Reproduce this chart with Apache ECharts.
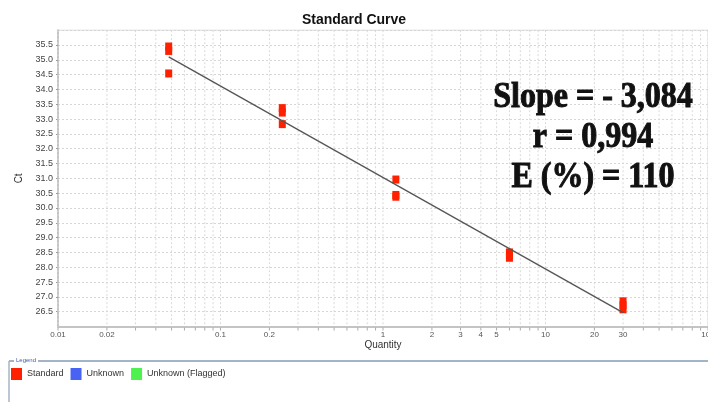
<!DOCTYPE html>
<html>
<head>
<meta charset="utf-8">
<script src="https://cdn.jsdelivr.net/npm/echarts@6/dist/echarts.min.js"></script>
<style>
  html, body { margin: 0; padding: 0; background: #fff; }
  #chart { width: 708px; height: 402px; }
</style>
</head>
<body>
<div id="chart"></div>
<script>
// Standard curve: Ct vs quantity (5-fold dilution series, triplicates)
const quantities = [0.048, 0.048, 0.048, 0.24, 0.24, 0.24, 1.2, 1.2, 1.2, 6, 6, 6, 30, 30, 30];
const ctValues   = [35.45, 35.30, 34.54, 33.37, 33.22, 32.83, 30.96, 30.44, 30.38, 28.50, 28.41, 28.32, 26.85, 26.72, 26.58];

// Fitted regression line end points (quantity, Ct)
const fitLine = [[0.048, 35.10], [30, 26.47]];

// Log-axis grid positions and labelled ticks
const xGridValues = [
  0.01, 0.02, 0.03, 0.04, 0.05, 0.06, 0.07, 0.08, 0.09,
  0.1, 0.2, 0.3, 0.4, 0.5, 0.6, 0.7, 0.8, 0.9,
  1, 2, 3, 4, 5, 6, 7, 8, 9,
  10, 20, 30, 40, 50, 60, 70, 80, 90, 100
];
const xTickLabels = ['0.01', '0.02', '0.1', '0.2', '1', '2', '3', '4', '5', '10', '20', '30', '100'];

const statLines = ['Slope = - 3,084', 'r = 0,994', 'E (%) = 110'];
const legendNames = ['Standard', 'Unknown', 'Unknown (Flagged)'];

const Y_MIN = 26, Y_MAX = 36;
const X_MIN = 0.01, X_MAX = 100;
const FONT = 'Liberation Sans, Arial, sans-serif';

const chart = echarts.init(document.getElementById('chart'), null, { renderer: 'canvas' });

const option = {
  animation: false,
  backgroundColor: '#ffffff',
  title: {
    text: 'Standard Curve',
    left: 'center',
    top: 8,
    textStyle: { fontFamily: FONT, fontSize: 14, fontWeight: 'bold', color: '#111' }
  },
  legend: {
    data: legendNames,
    left: 6,
    top: 363,
    icon: 'rect',
    itemWidth: 11,
    itemHeight: 12,
    itemGap: 7,
    textStyle: { fontFamily: FONT, fontSize: 9, color: '#333' }
  },
  grid: {
    left: 58,
    top: 30.2,
    width: 654,
    height: 296.3,
    show: true,
    borderColor: '#dddddd',
    borderWidth: 1,
    backgroundColor: '#ffffff'
  },
  xAxis: {
    type: 'log',
    logBase: 10,
    min: X_MIN,
    max: X_MAX,
    name: 'Quantity',
    nameLocation: 'middle',
    nameGap: 14,
    nameTextStyle: { fontFamily: FONT, fontSize: 10, color: '#333' },
    axisLine: { show: true, lineStyle: { color: '#c4c4c4', width: 2 } },
    axisTick: { show: false },
    axisLabel: { show: false },
    splitLine: { show: false }
  },
  yAxis: {
    type: 'value',
    min: Y_MIN,
    max: Y_MAX,
    interval: 0.5,
    name: 'Ct',
    nameLocation: 'middle',
    nameGap: 27,
    nameTextStyle: { fontFamily: FONT, fontSize: 10, color: '#333' },
    axisLine: { show: true, lineStyle: { color: '#c4c4c4', width: 2 } },
    axisTick: { show: true, length: 2, lineStyle: { color: '#999' } },
    axisLabel: {
      fontFamily: FONT,
      fontSize: 9,
      color: '#444',
      margin: 5,
      showMinLabel: false,
      showMaxLabel: false,
      formatter: v => v.toFixed(1)
    },
    splitLine: { show: true, lineStyle: { color: '#d6d6d6', type: [2, 2], width: 1 } }
  },
  graphic: [
    // legend frame
    { type: 'line', shape: { x1: 9, y1: 361, x2: 708, y2: 361 }, style: { stroke: '#a4b4c4', lineWidth: 2 }, z: 10 },
    { type: 'line', shape: { x1: 9, y1: 361, x2: 9, y2: 402 }, style: { stroke: '#a4b4c4', lineWidth: 1.5 }, z: 10 },
    { type: 'text', left: 14, top: 357, z: 11,
      style: { text: 'Legend', fontFamily: FONT, fontSize: 6, fill: '#3a5fa8', backgroundColor: '#fff', padding: [0, 2] } },
    // fit statistics (heavy serif)
    ...statLines.map((t, i) => ({
      type: 'text',
      x: 593,
      y: 80 + i * 40.3,
      z: 20,
      scaleY: 1.1,
      style: {
        text: t,
        fontFamily: '"Liberation Serif", serif',
        fontWeight: 'bold',
        fontSize: 32,
        fill: '#111',
        stroke: '#111',
        lineWidth: 0.9,
        textAlign: 'center',
        textVerticalAlign: 'alphabetic'
      }
    }))
  ],
  series: [
    {
      // vertical log grid lines and bottom ticks
      type: 'custom',
      silent: true,
      z: 1,
      data: xGridValues.map(v => [v]),
      renderItem: (params, api) => {
        const v = api.value(0);
        const top = api.coord([v, Y_MAX]);
        const bot = api.coord([v, Y_MIN]);
        return {
          type: 'group',
          children: [
            { type: 'line', shape: { x1: bot[0], y1: top[1], x2: bot[0], y2: bot[1] },
              style: { stroke: '#d9d9d9', lineWidth: 1, lineDash: [2, 2] } },
            { type: 'line', shape: { x1: bot[0], y1: bot[1] + 1, x2: bot[0], y2: bot[1] + 4 },
              style: { stroke: '#aaaaaa', lineWidth: 1 } }
          ]
        };
      }
    },
    {
      // x tick labels
      type: 'custom',
      silent: true,
      z: 2,
      data: xTickLabels.map(s => [parseFloat(s)]),
      renderItem: (params, api) => {
        const v = api.value(0);
        const bot = api.coord([v, Y_MIN]);
        return {
          type: 'text',
          x: bot[0],
          y: bot[1] + 4,
          style: {
            text: xTickLabels[params.dataIndex],
            fontFamily: FONT,
            fontSize: 8,
            fill: '#555',
            textAlign: 'center',
            textVerticalAlign: 'top'
          }
        };
      }
    },
    {
      name: 'Standard',
      type: 'scatter',
      symbol: 'rect',
      symbolSize: [7, 8],
      itemStyle: { color: '#ff2000', opacity: 1 },
      z: 3,
      data: quantities.map((q, i) => [q, ctValues[i]])
    },
    { name: 'Unknown', type: 'scatter', symbol: 'rect', itemStyle: { color: '#1a3cf0' }, data: [] },
    { name: 'Unknown (Flagged)', type: 'scatter', symbol: 'rect', itemStyle: { color: '#22ee22' }, data: [] },
    {
      name: 'Fit',
      type: 'line',
      showSymbol: false,
      symbol: 'none',
      z: 4,
      lineStyle: { color: '#555', width: 1.3 },
      data: fitLine
    }
  ]
};

chart.setOption(option);
</script>
</body>
</html>
